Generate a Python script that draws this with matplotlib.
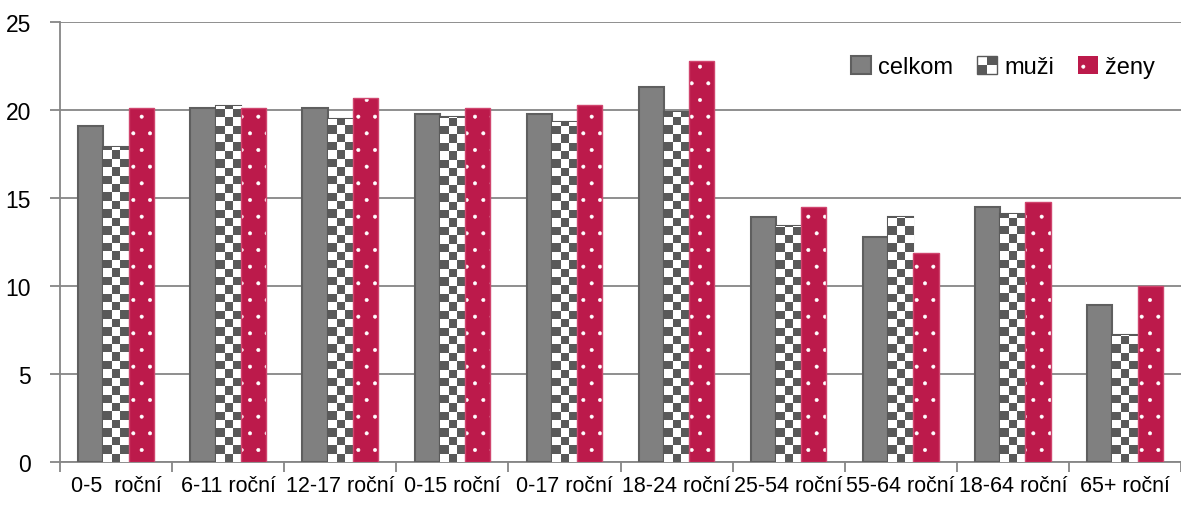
import numpy as np
import matplotlib
matplotlib.use("Agg")
import matplotlib.pyplot as plt
from matplotlib.patches import Rectangle, Patch

# data
categories = ["0-5  roční", "6-11 roční", "12-17 roční", "0-15 roční", "0-17 roční",
              "18-24 roční", "25-54 roční", "55-64 roční", "18-64 roční", "65+ roční"]
celkom = [19.1, 20.1, 20.1, 19.8, 19.8, 21.3, 13.9, 12.8, 14.5, 8.9]
muzi = [17.9, 20.2, 19.5, 19.6, 19.3, 19.9, 13.4, 13.9, 14.1, 7.2]
zeny = [20.1, 20.1, 20.7, 20.1, 20.3, 22.8, 14.5, 11.9, 14.8, 10.0]
series_names = ["celkom", "muži", "ženy"]
yticks = [0, 5, 10, 15, 20, 25]

plt.rcParams["font.family"] = ["Liberation Sans", "DejaVu Sans"]
plt.rcParams["hatch.linewidth"] = 0.4

GRID = "#868686"
GRAY = "#808080"
GRAY_EDGE = "#5f5f5f"
CHECK = "#595959"
RED = "#BC1A4B"
RED_EDGE = "#D0456E"

W, H = 1181, 506
fig = plt.figure(figsize=(W / 100, H / 100), dpi=100)
ax = fig.add_axes([60 / W, 1 - 463 / H, 1121 / W, 440 / H])

x = np.arange(len(categories))
bw = 0.225

ax.set_xlim(-0.5, len(categories) - 0.5)
ax.set_ylim(0, 25)

ax.bar(x - bw, celkom, bw, color=GRAY, edgecolor=GRAY_EDGE, linewidth=1.5, zorder=3)

# muzi: white bar + checkerboard image clipped to the bar
bars_m = ax.bar(x, muzi, bw, color="white", edgecolor=CHECK, linewidth=1.5, zorder=3)
px_per_y = 440 / 25
sq = 8.4
cmap = matplotlib.colors.ListedColormap(["white", CHECK])
for b in bars_m:
    x0 = b.get_x()
    h = b.get_height()
    nx = 3
    ny = int(np.ceil(h * px_per_y / sq)) + 1
    chk = (np.add.outer(np.arange(ny), np.arange(nx)) % 2).astype(float)
    im = ax.imshow(chk, cmap=cmap, origin="lower", interpolation="nearest",
                   extent=(x0, x0 + b.get_width(), 0, ny * sq / px_per_y),
                   aspect="auto", zorder=3.5)
    im.set_clip_path(b)

# zeny: red with white dots
ax.bar(x + bw, zeny, bw, color=RED, edgecolor="white", linewidth=0, hatch=".", zorder=3)
ax.bar(x + bw, zeny, bw, fill=False, edgecolor=RED_EDGE, linewidth=1.0, zorder=3.6)

ax.set_xlim(-0.5, len(categories) - 0.5)
ax.set_ylim(0, 25)

# axes styling
for s in ["top", "right"]:
    ax.spines[s].set_visible(False)
for s in ["left", "bottom"]:
    ax.spines[s].set_color(GRID)
    ax.spines[s].set_linewidth(1.3)
ax.set_yticks(yticks)
ax.yaxis.grid(True, color=GRID, linewidth=1.3, zorder=0)
ax.set_axisbelow(True)
ax.tick_params(axis="y", length=7, width=1.3, color=GRID, labelsize=16.5, pad=14)
ax.set_xticks(x)
ax.set_xticklabels(categories)
ax.set_xticks(np.arange(-0.5, len(categories)), minor=True)
ax.tick_params(axis="x", which="major", length=0, labelsize=15.5, pad=9)
ax.tick_params(axis="x", which="minor", length=7, width=1.3, color=GRID)


class CheckerHandler:
    def legend_artist(self, legend, orig_handle, fontsize, handlebox):
        x0, y0 = -handlebox.xdescent, -handlebox.ydescent
        w, h = handlebox.width, handlebox.height
        t = handlebox.get_transform()
        handlebox.add_artist(Rectangle((x0, y0), w, h, facecolor="white",
                                       edgecolor=CHECK, lw=1.0, transform=t))
        handlebox.add_artist(Rectangle((x0 + w / 2, y0 + h / 2), w / 2, h / 2, facecolor=CHECK,
                                       edgecolor="none", transform=t))
        handlebox.add_artist(Rectangle((x0, y0), w / 2, h / 2, facecolor=CHECK,
                                       edgecolor="none", transform=t))
        return handlebox


h_c = Patch(facecolor=GRAY, edgecolor=GRAY_EDGE, linewidth=1.5)
h_m = Patch(facecolor="white")
h_z = Patch(facecolor=RED, edgecolor="white", hatch=".", linewidth=0)
ax.legend([h_c, h_m, h_z], series_names, handler_map={h_m: CheckerHandler()},
          loc="upper right", bbox_to_anchor=(0.985, 0.945), ncol=3, frameon=False,
          fontsize=17, handlelength=0.85, handleheight=0.85,
          handletextpad=0.3, columnspacing=1.0, borderaxespad=0)

fig.savefig("out.png", dpi=100)
